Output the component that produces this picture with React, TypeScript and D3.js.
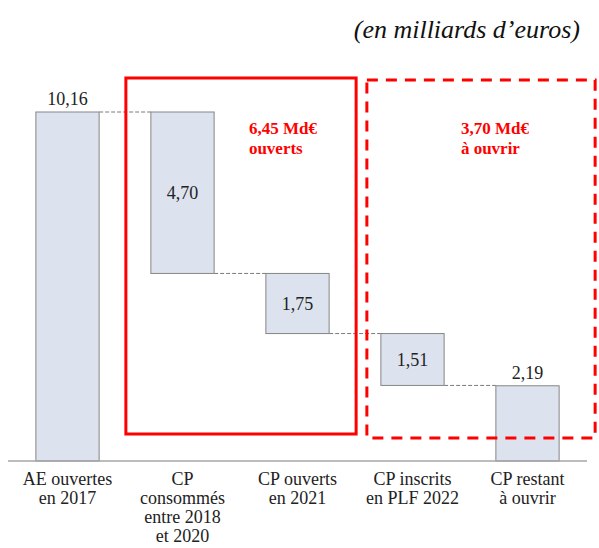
import React from 'react';
import * as d3 from 'd3';

// waterfall: AE 2017 -> CP consumed / opened / planned -> remaining
const categories = [
  ['AE ouvertes', 'en 2017'],
  ['CP', 'consommés', 'entre 2018', 'et 2020'],
  ['CP ouverts', 'en 2021'],
  ['CP inscrits', 'en PLF 2022'],
  ['CP restant', 'à ouvrir'],
];
const amounts = [10.16, -4.7, -1.75, -1.51, 2.19];
const isTotal = [true, false, false, false, true];
const valueLabels = ['10,16', '4,70', '1,75', '1,51', '2,19'];

const boxFrom = [1, 3];
const boxTo = [2, 4];
const boxDashed = [false, true];
const boxTexts = [
  ['6,45 Md€', 'ouverts'],
  ['3,70 Md€', 'à ouvrir'],
];

const W = 599;
const H = 548;
const FONT = "'Liberation Serif', 'Times New Roman', serif";

type Step = { start: number; end: number; level: number };

function buildSteps(): Step[] {
  let running = 0;
  return amounts.map((a, i) => {
    if (isTotal[i]) {
      running = a;
      return { start: 0, end: a, level: a };
    }
    const start = running;
    running += a;
    return { start, end: running, level: running };
  });
}

export default function App() {
  const steps = buildSteps();
  const keys = categories.map((_, i) => String(i));

  const x = d3
    .scaleBand<string>()
    .domain(keys)
    .range([10, 585])
    .paddingInner(0.45)
    .paddingOuter(0.225);
  const y = d3.scaleLinear().domain([0, 10.16]).range([461, 112]);
  const bw = x.bandwidth();

  const boxTop = y(10.16) - 34;

  return (
    <svg
      width={W}
      height={H}
      style={{ position: 'absolute', left: 0, top: 0, background: '#fff', fontFamily: FONT }}
    >
      <text x={580} y={38} textAnchor="end" fontSize={26} fontStyle="italic" fill="#111">
        (en milliards d’euros)
      </text>

      {/* connectors */}
      {steps.slice(0, -1).map((s, i) => (
        <line
          key={'c' + i}
          x1={(x(keys[i]) as number) + bw}
          x2={x(keys[i + 1]) as number}
          y1={y(s.level)}
          y2={y(s.level)}
          stroke="#7a7a7a"
          strokeWidth={1}
          strokeDasharray="4,2"
        />
      ))}

      {steps.map((s, i) => {
        const top = y(Math.max(s.start, s.end));
        const bot = y(Math.min(s.start, s.end));
        return (
          <rect
            key={'b' + i}
            x={x(keys[i])}
            y={top}
            width={bw}
            height={bot - top}
            fill="#dde3ee"
            stroke="#858585"
            strokeWidth={1}
          />
        );
      })}

      {steps.map((s, i) => {
        const cx = (x(keys[i]) as number) + bw / 2;
        const top = y(Math.max(s.start, s.end));
        const bot = y(Math.min(s.start, s.end));
        return (
          <text
            key={'v' + i}
            x={cx}
            y={isTotal[i] ? top - 7 : (top + bot) / 2}
            dy={isTotal[i] ? 0 : '0.35em'}
            textAnchor="middle"
            fontSize={18}
            fill="#222"
          >
            {valueLabels[i]}
          </text>
        );
      })}

      {/* baseline */}
      <line x1={8} x2={587} y1={y(0)} y2={y(0)} stroke="#a6a6a6" strokeWidth={1.5} />

      {categories.map((lines, i) => (
        <text
          key={'l' + i}
          x={(x(keys[i]) as number) + bw / 2}
          y={485}
          textAnchor="middle"
          fontSize={18}
          fill="#222"
        >
          {lines.map((t, j) => (
            <tspan key={j} x={(x(keys[i]) as number) + bw / 2} dy={j === 0 ? 0 : 19}>
              {t}
            </tspan>
          ))}
        </text>
      ))}

      {/* annotation boxes */}
      {boxFrom.map((f, k) => {
        const dashed = boxDashed[k];
        const left = (x(keys[f]) as number) - (dashed ? 14 : 25);
        const right = (x(keys[boxTo[k]]) as number) + bw + (dashed ? 36 : 27);
        const top = boxTop + (dashed ? 2 : 0);
        const bottom = y(0) - (dashed ? 23 : 27);
        const tx = dashed ? left + 94 : left + 123;
        return (
          <g key={'box' + k}>
            <rect
              x={left}
              y={top}
              width={right - left}
              height={bottom - top}
              fill="none"
              stroke="#ff0000"
              strokeWidth={3}
              strokeDasharray={dashed ? '11,8' : undefined}
            />
            <text x={tx} y={134} fontSize={17} fontWeight="bold" fill="#ff0000">
              {boxTexts[k].map((t, j) => (
                <tspan key={j} x={tx} dy={j === 0 ? 0 : 20}>
                  {t}
                </tspan>
              ))}
            </text>
          </g>
        );
      })}
    </svg>
  );
}
